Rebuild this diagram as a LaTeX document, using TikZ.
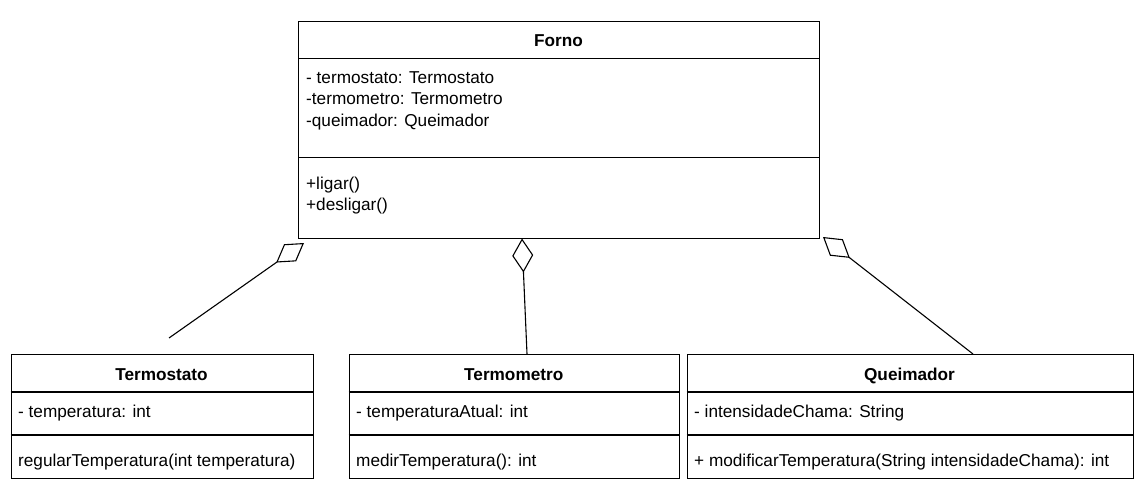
\documentclass[tikz,border=0pt]{standalone}
\usepackage{fontspec}
\setmainfont{Liberation Sans}
\usetikzlibrary{arrows.meta}
\begin{document}
\begin{tikzpicture}[x=1pt,y=-1pt,
  umlbox/.style={draw=black, line width=1.1pt, fill=white, anchor=north west, inner sep=0pt},
  divider/.style={draw=black, line width=1.1pt},
  title/.style={anchor=base, inner sep=0pt, font=\fontsize{17.2}{20}\selectfont\bfseries},
  member/.style={anchor=base west, inner sep=0pt, font=\fontsize{17.2}{20}\selectfont},
  aggr/.style={draw=black, line width=1.1pt, -{Diamond[open, length=34pt, width=21pt, line width=1.1pt]}}
]
\useasboundingbox[fill=white] (0,0) rectangle (1143,500);

% Forno
\node[umlbox, minimum width=521pt, minimum height=217pt] (forno) at (298,21) {};
\draw[divider] (298,58.5) -- (819,58.5);
\draw[divider] (298,157.5) -- (819,157.5);
\node[title] (fornoT) at (558.5,47) {Forno};
\node[member] (f1) at (306,83.5) {- termostato: Termostato};
\node[member] (f2) at (306,105) {-termometro: Termometro};
\node[member] (f3) at (306,127) {-queimador: Queimador};
\node[member] (f4) at (306,189.5) {+ligar()};
\node[member] (f5) at (306,210.5) {+desligar()};

% Termostato
\node[umlbox, minimum width=302pt, minimum height=124pt] (termostato) at (10.5,354) {};
\draw[divider] (10.5,392) -- (312.5,392);
\draw[divider] (10.5,435) -- (312.5,435);
\node[title] (tsT) at (161.5,380) {Termostato};
\node[member] (ts1) at (18,417.5) {- temperatura: int};
\node[member] (ts2) at (18,466) {regularTemperatura(int temperatura)};

% Termometro
\node[umlbox, minimum width=330.5pt, minimum height=124pt] (termometro) at (348.5,354) {};
\draw[divider] (348.5,392) -- (679,392);
\draw[divider] (348.5,435) -- (679,435);
\node[title] (tmT) at (513.75,380) {Termometro};
\node[member] (tm1) at (356,417.5) {- temperaturaAtual: int};
\node[member] (tm2) at (356,466) {medirTemperatura(): int};

% Queimador
\node[umlbox, minimum width=446pt, minimum height=124pt] (queimador) at (686.5,354) {};
\draw[divider] (686.5,392) -- (1132.5,392);
\draw[divider] (686.5,435) -- (1132.5,435);
\node[title] (qT) at (909.5,380) {Queimador};
\node[member] (q1) at (694,417.5) {- intensidadeChama: String};
\node[member] (q2) at (694,466) {+ modificarTemperatura(String intensidadeChama): int};

% Aggregation connectors
\coordinate (a1s) at (169,338);
\coordinate (a1e) at (304,243);
\coordinate (a2s) at (527,354);
\coordinate (a2e) at (522,238.5);
\coordinate (a3s) at (973,354);
\coordinate (a3e) at (823,237);
\draw[aggr] (a1s) -- (a1e);
\draw[aggr] (a2s) -- (a2e);
\draw[aggr] (a3s) -- (a3e);
\end{tikzpicture}
\end{document}
